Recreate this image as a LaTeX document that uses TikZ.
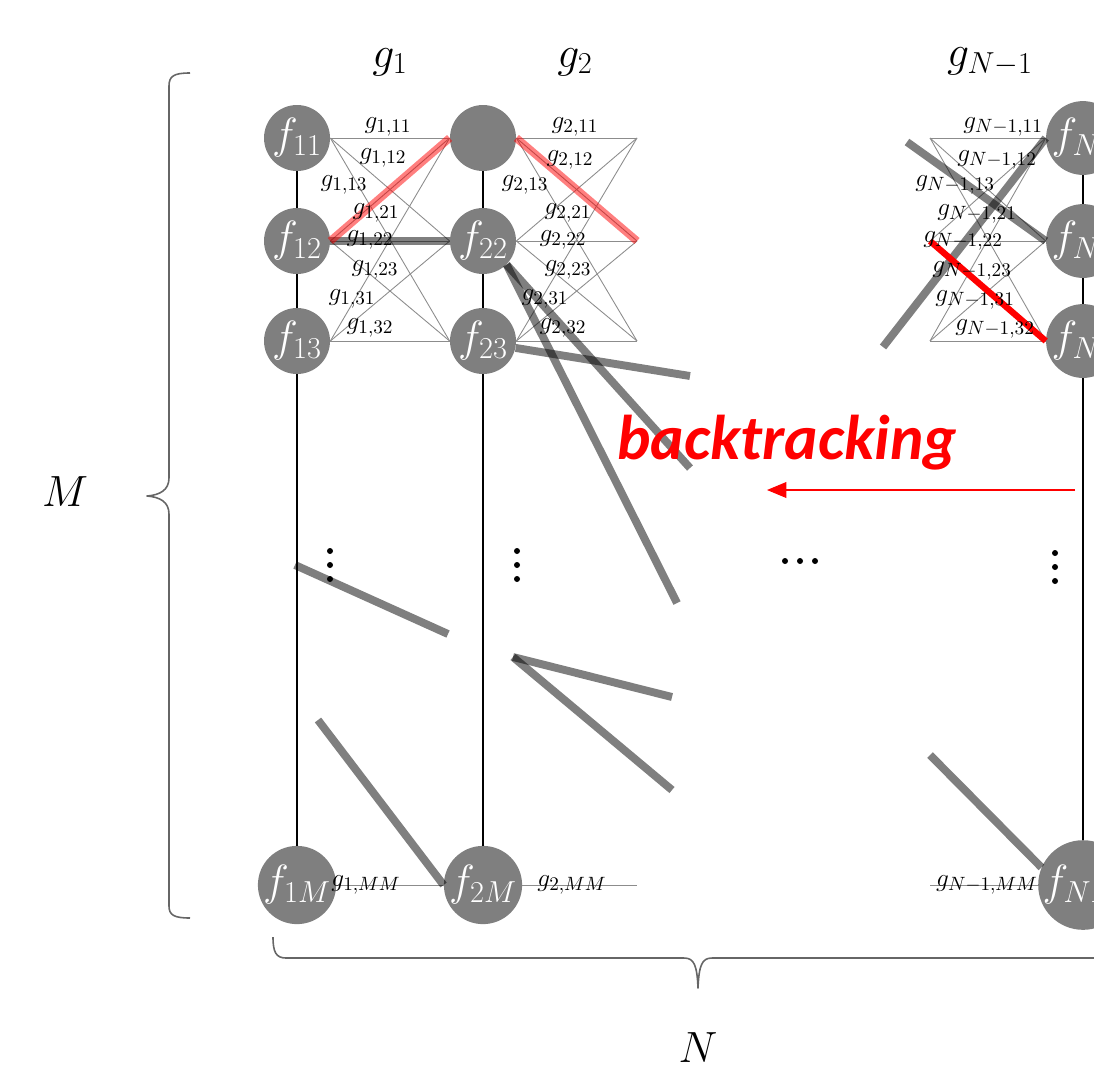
\documentclass[tikz,border=0pt]{standalone}
\usepackage{amsmath,amssymb}
\usepackage{fontspec}
\newfontfamily\calfont{Carlito}
\usepackage{tikz}
\usetikzlibrary{positioning,calc,arrows.meta}
\definecolor{cNode}{HTML}{7F7F7F}
\definecolor{cEdge}{HTML}{8C8C8C}
\definecolor{cInk}{HTML}{000000}
\tikzset{
  fn/.style={circle,fill=cNode,draw=none,minimum size=1.32cm,inner sep=0pt,text=white,font=\fontsize{23}{23}\selectfont},
  gl/.style={font=\fontsize{15}{15}\selectfont,inner sep=0pt},
  gtop/.style={font=\fontsize{25}{25}\selectfont,inner sep=0pt},
  big/.style={font=\fontsize{33}{33}\selectfont,inner sep=0pt},
  dotmark/.style={circle,fill=cInk,draw=none,minimum size=0.12cm,inner sep=0pt},
  gedge/.style={draw=cEdge,line width=0.5pt},
  colline/.style={draw=cInk,line width=0.6pt},
  trail/.style={line width=4.5pt,black,opacity=0.5},
  redtrail/.style={line width=4.5pt,red,opacity=0.5},
  redbest/.style={line width=3.6pt,red},
  brc/.style={draw=black!60,line width=0.9pt,line join=round},
}

\begin{document}
\begin{tikzpicture}[x=0.02cm,y=-0.02cm]
  \clip (0,0) rectangle (1094,1079);
  % layer 1
  \node[fn] (f11) at (297,138) {$f_{11}$};
  \node[fn] (f12) at (297,241) {$f_{12}$};
  \node[fn] (f13) at (297,341) {$f_{13}$};
  \node[fn] (f1M) at (297,885) {$f_{1M}$};
  % layer 2
  \node[fn] (f21) at (483,138) {};
  \node[fn] (f22) at (483,241) {$f_{22}$};
  \node[fn] (f23) at (483,341) {$f_{23}$};
  \node[fn] (f2M) at (483,885) {$f_{2M}$};
  % layer N
  \node[fn] (fN1) at (1083,138) {$f_{N1}$};
  \node[fn] (fN2) at (1083,241) {$f_{N2}$};
  \node[fn] (fN3) at (1083,341) {$f_{N3}$};
  \node[fn] (fNM) at (1083,885) {$f_{NM}$};
  % loose ends of the g edges
  \coordinate (h21) at (637,138);
  \coordinate (h22) at (637,241);
  \coordinate (h23) at (637,341);
  \coordinate (h2M) at (637,885);
  \coordinate (hN1) at (930,138);
  \coordinate (hN2) at (930,241);
  \coordinate (hN3) at (930,341);
  \coordinate (hNM) at (930,885);

  \foreach \c in {1,2,N}{
    \draw[colline] (f\c1) -- (f\c2);
    \draw[colline] (f\c2) -- (f\c3);
    \draw[colline] (f\c3) -- (f\c M);
  }
  \foreach \i in {1,2,3}
    \foreach \j in {1,2,3}{
      \draw[gedge] (f1\i.east) -- (f2\j.west);
      \draw[gedge] (f2\i.east) -- (h2\j);
      \draw[gedge] (hN\i) -- (fN\j.west);
    }
  \draw[gedge] (f1M) -- (f2M);
  \draw[gedge] (f2M) -- (h2M);
  \draw[gedge] (hNM) -- (fNM);

  % traced paths
  \coordinate (t1a) at (677,603);
  \coordinate (t1b) at (690,468);
  \coordinate (t1c) at (690,376);
  \coordinate (t2a) at (295,565);
  \coordinate (t2b) at (448,634);
  \coordinate (t3a) at (318,720);
  \coordinate (t4a) at (513,657);
  \coordinate (t4b) at (672,697);
  \coordinate (t4c) at (672,790);
  \coordinate (t5a) at (930,755);
  \coordinate (t6a) at (907,142);
  \coordinate (t6b) at (883,347);
  \draw[trail] (f12.east) -- (f22.west);
  \draw[trail] (f22.south east) -- (t1a);
  \draw[trail] (f22.south east) -- (t1b);
  \draw[trail] (f23.-12) -- (t1c);
  \draw[trail] (t2a) -- (t2b);
  \draw[trail] (t3a) -- (f2M.west);
  \draw[trail] (t4a) -- (t4b);
  \draw[trail] (t4a) -- (t4c);
  \draw[trail] (t5a) -- (fNM.157);
  \draw[trail] (t6a) -- (fN2.west);
  \draw[trail] (t6b) -- (fN1.west);
  \draw[redtrail] (f12.east) -- (f21.west);
  \draw[redtrail] (f21.east) -- (h22);
  \draw[redbest] (hN2) -- (fN3.west);

  % edge labels
  \foreach \s/\px/\py in {11/388/127,12/383/158,13/344/185,21/376/213,22/370/240,23/375/270,31/352/299,32/370/328}
    \node[gl] (g1-\s) at (\px,\py) {$g_{1,\s}$};
  \foreach \s/\px/\py in {11/575/127,12/570/160,13/525/185,21/568/213,22/563/240,23/568/270,31/545/299,32/563/328}
    \node[gl] (g2-\s) at (\px,\py) {$g_{2,\s}$};
  \foreach \s/\px/\py in {11/1003/127,12/997/160,13/955/185,21/977/214,22/963/241,23/972/271,31/975/300,32/995/329}
    \node[gl] (gN-\s) at (\px,\py) {$g_{N-1,\s}$};
  \node[gl] (g1-MM) at (366,885) {$g_{1,MM}$};
  \node[gl] (g2-MM) at (572,885) {$g_{2,MM}$};
  \node[gl] (gN-MM) at (987,885) {$g_{N-1,MM}$};

  \node[gtop] (g1) at (390,62) {$g_1$};
  \node[gtop] (g2) at (575,62) {$g_2$};
  \node[gtop] (gN) at (990,62) {$g_{N-1}$};

  % dots
  \foreach \dx/\dy in {330/551,330/565,330/579,517/551,517/565,517/579,1055/553,1055/567,1055/581,785/561,800/561,815/561}
    \node[dotmark] at (\dx,\dy) {};

  % backtracking
  \node[red,font=\calfont\bfseries\itshape\fontsize{36}{36}\selectfont,inner sep=0pt] (bt) at (787,443) {backtracking};
  \coordinate (arrR) at (1075,490);
  \coordinate (arrL) at (767,490);
  \draw[red,line width=0.6pt,-{Triangle[length=11pt,width=9pt]}] (arrR) -- (arrL);

  % braces
  \draw[brc] (190,73) .. controls (174,73) and (169,76) .. (169,86)
    -- (169,478) .. controls (169,490) and (160,495) .. (147,496)
    .. controls (160,497) and (169,502) .. (169,514)
    -- (169,906) .. controls (169,915) and (174,918) .. (190,918);
  \draw[brc] (273,937) .. controls (273,952) and (276,958) .. (286,958)
    -- (684,958) .. controls (694,958) and (697,965) .. (698,988)
    .. controls (699,965) and (702,958) .. (712,958)
    -- (1110,958) .. controls (1120,958) and (1123,952) .. (1123,937);
  \node[big] (M) at (65,492) {$M$};
  \node[big] (N) at (698,1048) {$N$};
\end{tikzpicture}
\end{document}
